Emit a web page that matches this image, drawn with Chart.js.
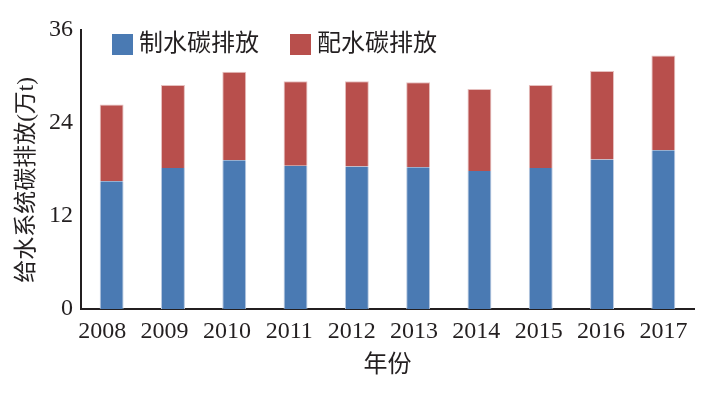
<!DOCTYPE html>
<html><head><meta charset="utf-8">
<script src="https://cdn.jsdelivr.net/npm/chart.js@4"></script>
<style>html,body{margin:0;padding:0;background:#fff}#wrap{width:711px;height:398px}</style>
</head><body><div id="wrap"><canvas id="c" width="711" height="398"></canvas></div>
<script>
const categories = ['2008','2009','2010','2011','2012','2013','2014','2015','2016','2017'];
const production = [16.5, 18.2, 19.2, 18.5, 18.4, 18.3, 17.8, 18.2, 19.3, 20.5];
const distribution = [9.9, 10.7, 11.4, 10.9, 11.0, 10.95, 10.6, 10.7, 11.4, 12.2];
const yTicks = [0, 12, 24, 36];
const seriesNames = ['制水碳排放', '配水碳排放'];
const yTitle = '给水系统碳排放(万t)';
const xTitle = '年份';
const FONT = '"Liberation Serif", "Noto Sans CJK SC", serif';

const decorPlugin = {
  id: 'decor',
  afterDraw(chart) {
    const ctx = chart.ctx;
    const pos = [{x:112, y:34}, {x:290, y:34}];
    ctx.save();
    chart.data.datasets.forEach((ds, i) => {
      ctx.fillStyle = ds.backgroundColor;
      ctx.fillRect(pos[i].x, pos[i].y, 21, 21);
      ctx.fillStyle = '#231f20';
      ctx.font = '24px ' + FONT;
      ctx.textBaseline = 'middle';
      ctx.textAlign = 'left';
      ctx.fillText(ds.label, pos[i].x + 27, pos[i].y + 11);
    });
    ctx.translate(27, 180);
    ctx.rotate(-Math.PI / 2);
    ctx.font = '23px ' + FONT;
    ctx.textAlign = 'center';
    ctx.textBaseline = 'middle';
    ctx.fillStyle = '#231f20';
    ctx.fillText(yTitle, 0, 0);
    ctx.restore();
  }
};

new Chart(document.getElementById('c'), {
  type: 'bar',
  data: {
    labels: categories,
    datasets: [
      {label: seriesNames[0], data: production, backgroundColor: '#4a7ab3', borderColor: '#b9c9e0', borderWidth: {left:1,right:1,top:0,bottom:0}},
      {label: seriesNames[1], data: distribution, backgroundColor: '#b84f4c', borderColor: '#e6c0bf', borderWidth: {left:1,right:1,top:1,bottom:0}}
    ]
  },
  plugins: [decorPlugin],
  options: {
    responsive: false,
    animation: false,
    layout: {padding: {top: 30, right: 17, bottom: 18, left: 0}},
    datasets: {bar: {categoryPercentage: 1, barPercentage: 0.39, borderSkipped: false}},
    plugins: {legend: {display: false}, tooltip: {enabled: false}},
    scales: {
      x: {
        stacked: true,
        grid: {display: false, drawTicks: false},
        border: {display: true, color: '#231f20', width: 2},
        ticks: {display: false},
        title: {display: false},
        afterFit(s) { s.height = 0; }
      },
      xl: {
        type: 'linear',
        position: 'bottom',
        offset: false,
        min: -0.34, max: 9.49,
        afterBuildTicks(s) { s.ticks = categories.map((c, i) => ({value: i})); },
        grid: {display: false, drawTicks: false, offset: false},
        border: {display: false},
        ticks: {color: '#231f20', font: {family: FONT, size: 24}, padding: 8, maxRotation: 0, autoSkip: false,
                callback: (v) => categories[v]},
        title: {display: true, text: xTitle, color: '#231f20', font: {family: FONT, size: 24}, padding: {top: 2, bottom: 0}},
        afterFit(s) { s.height = 71; }
      },
      y: {
        stacked: true,
        min: 0, max: 36,
        afterBuildTicks(s) { s.ticks = yTicks.map(v => ({value: v})); },
        grid: {display: false, drawOnChartArea: false, drawTicks: true, tickLength: 6, color: '#231f20', lineWidth: 2},
        border: {display: true, color: '#231f20', width: 2},
        ticks: {color: '#231f20', font: {family: FONT, size: 24}, padding: 2},
        afterFit(s) { s.width = 81; }
      }
    }
  }
});
</script></body></html>
